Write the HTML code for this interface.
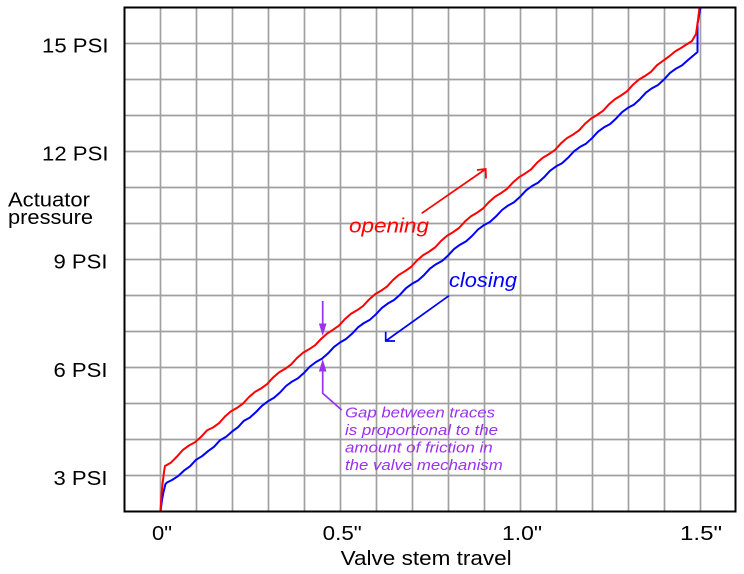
<!DOCTYPE html>
<html>
<head>
<meta charset="utf-8">
<style>
html,body{margin:0;padding:0;background:#fff;}
svg{display:block;}
text{font-family:"Liberation Sans",Arial,sans-serif;}
</style>
</head>
<body>
<svg width="744" height="574" viewBox="0 0 744 574" xmlns="http://www.w3.org/2000/svg">
<rect x="0" y="0" width="744" height="574" fill="#fff"/>
<!-- grid -->
<g stroke="#a0a0a0" stroke-width="1.7" fill="none">
<path d="M160.5,7.5V511.5 M196.5,7.5V511.5 M232.5,7.5V511.5 M268.5,7.5V511.5 M304.5,7.5V511.5 M340.5,7.5V511.5 M376.5,7.5V511.5 M412.5,7.5V511.5 M448.5,7.5V511.5 M484.5,7.5V511.5 M520.5,7.5V511.5 M556.5,7.5V511.5 M592.5,7.5V511.5 M628.5,7.5V511.5 M664.5,7.5V511.5 M700.5,7.5V511.5"/>
<path d="M124.5,43.5H735.5 M124.5,79.5H735.5 M124.5,115.5H735.5 M124.5,151.5H735.5 M124.5,187.5H735.5 M124.5,223.5H735.5 M124.5,259.5H735.5 M124.5,295.5H735.5 M124.5,331.5H735.5 M124.5,367.5H735.5 M124.5,403.5H735.5 M124.5,439.5H735.5 M124.5,475.5H735.5"/>
</g>
<!-- curves -->
<polyline fill="none" stroke="#0000ff" stroke-width="2" stroke-linejoin="round" points="160.5,511.5 162,500 163.5,492 165.5,484 167,482.5 172,480 178,476.2 184,470.6 190,466.3 196,459.8 202,456.2 208,451.2 214,446.8 220,440.3 226,436.9 232,431.6 238,427.2 244,420.7 250,417.5 256,412 262,405.8 268,401.2 274,397.8 280,392.5 286,386 292,381.6 298,378.2 304,372.9 310,366.5 316,362 322,358.6 328,353.4 334,346.9 340,342.5 346,339 352,333.8 358,327.3 364,323 370,319.7 376,314.2 382,307.8 388,303.4 394,300 400,294.7 406,288.2 412,283.8 418,280.5 424,275.1 430,268.6 436,264.2 442,261 448,255.6 454,249.1 460,244.7 466,241.4 472,236 478,229.5 484,225.1 490,221.9 496,216.4 502,210 508,205.6 514,202.3 520,196.9 526,190.4 532,186 538,182.7 544,177.3 550,170.8 556,166.4 562,163.2 568,157.8 574,151.3 580,146.9 586,143.7 592,138.2 598,131.7 604,127.3 610,124.1 616,118.6 622,112.2 628,107.8 634,104.6 640,99.1 646,92.6 652,88.2 658,85 664,79.5 670,72.9 676,68.6 682,65.4 688,60 697.5,52 697.5,24 700.5,7.5"/>
<polyline fill="none" stroke="#ff0000" stroke-width="2" stroke-linejoin="round" points="160.5,511.5 161.5,494 162.5,484 164,472 165,466 171,462.6 177,456.5 183,449.8 189,445.5 195,442.3 201,436.9 207,430.4 213,427.5 219,423.2 225,416.5 231,411.3 237,407.9 243,403.6 249,397 255,391.9 261,388.5 267,384.2 273,377.6 279,372.4 285,368.9 291,364.6 297,358 303,352.8 309,349.3 315,345.3 321,339 327,333.6 333,329.8 339,325.6 345,319 351,313.8 357,310.3 363,306.1 369,299.6 375,294.3 381,290.8 387,286.6 393,280 399,274.8 405,271.2 411,267 417,260.5 423,255.2 429,251.7 435,247.5 441,241 447,235.7 453,232.2 459,228 465,221.4 471,216.2 477,212.7 483,208.5 489,202 495,196.7 501,193.1 507,188.9 513,182.4 519,177.2 525,173.6 531,169.4 537,162.8 543,157.6 549,154.1 555,149.9 561,143.3 567,138.1 573,134.6 579,130.4 585,123.8 591,118.6 597,115 603,110.8 609,104.3 615,99.1 621,95.5 627,91.3 633,84.7 639,79.5 645,76 651,71.8 657,65.2 663,60.8 669,56.5 675,51.5 681,48 688,43.5 692,41 696,34 698,20 699.5,7.5"/>
<!-- frame -->
<rect x="124.5" y="7.5" width="611" height="504" fill="none" stroke="#000" stroke-width="2"/>
<!-- y labels -->
<g font-size="20" fill="#000" text-anchor="end">
<text x="108.5" y="52.5" textLength="66.5" lengthAdjust="spacingAndGlyphs">15 PSI</text>
<text x="108.5" y="160.5" textLength="66.5" lengthAdjust="spacingAndGlyphs">12 PSI</text>
<text x="107.5" y="268.5" textLength="54" lengthAdjust="spacingAndGlyphs">9 PSI</text>
<text x="107.5" y="376.8" textLength="54" lengthAdjust="spacingAndGlyphs">6 PSI</text>
<text x="107.5" y="484.8" textLength="54" lengthAdjust="spacingAndGlyphs">3 PSI</text>
</g>
<g font-size="20" fill="#000">
<text x="8" y="206.5" textLength="82" lengthAdjust="spacingAndGlyphs">Actuator</text>
<text x="8" y="224" textLength="85" lengthAdjust="spacingAndGlyphs">pressure</text>
</g>
<!-- x labels -->
<g font-size="20" fill="#000">
<text x="152" y="540" textLength="20" lengthAdjust="spacingAndGlyphs">0"</text>
<text x="322.7" y="540" textLength="39" lengthAdjust="spacingAndGlyphs">0.5"</text>
<text x="502" y="540" textLength="40" lengthAdjust="spacingAndGlyphs">1.0"</text>
<text x="680" y="540" textLength="42" lengthAdjust="spacingAndGlyphs">1.5"</text>
<text x="340.7" y="565" textLength="171" lengthAdjust="spacingAndGlyphs">Valve stem travel</text>
</g>
<!-- opening / closing -->
<text x="349" y="232.5" font-size="20" font-style="italic" fill="#ff0000" textLength="80" lengthAdjust="spacingAndGlyphs">opening</text>
<path d="M421.7,213.3 L485.7,169 M477,170 L485.7,169 L486,178.5" fill="none" stroke="#ff0000" stroke-width="1.7"/>
<text x="449" y="287" font-size="20" font-style="italic" fill="#0000ff" textLength="68" lengthAdjust="spacingAndGlyphs">closing</text>
<path d="M449,295.7 L385.7,341 M385.7,331.7 L385.7,341 L395,341" fill="none" stroke="#0000ff" stroke-width="1.7"/>
<!-- purple annotation -->
<g stroke="#9b30f0" stroke-width="1.7" fill="none">
<path d="M322.7,301 V326"/>
<path d="M322.7,371 V393.3 L341.7,410"/>
</g>
<g fill="#9b30f0">
<polygon points="318.9,323.5 326.5,323.5 322.7,336"/>
<polygon points="318.9,371.5 326.5,371.5 322.7,359"/>
</g>
<g font-size="15" font-style="italic" fill="#9b30f0">
<text x="345" y="417.5" textLength="150" lengthAdjust="spacingAndGlyphs">Gap between traces</text>
<text x="345" y="435" textLength="153" lengthAdjust="spacingAndGlyphs">is proportional to the</text>
<text x="345" y="452.5" textLength="147.7" lengthAdjust="spacingAndGlyphs">amount of friction in</text>
<text x="345" y="470" textLength="157.7" lengthAdjust="spacingAndGlyphs">the valve mechanism</text>
</g>
</svg>
</body>
</html>
